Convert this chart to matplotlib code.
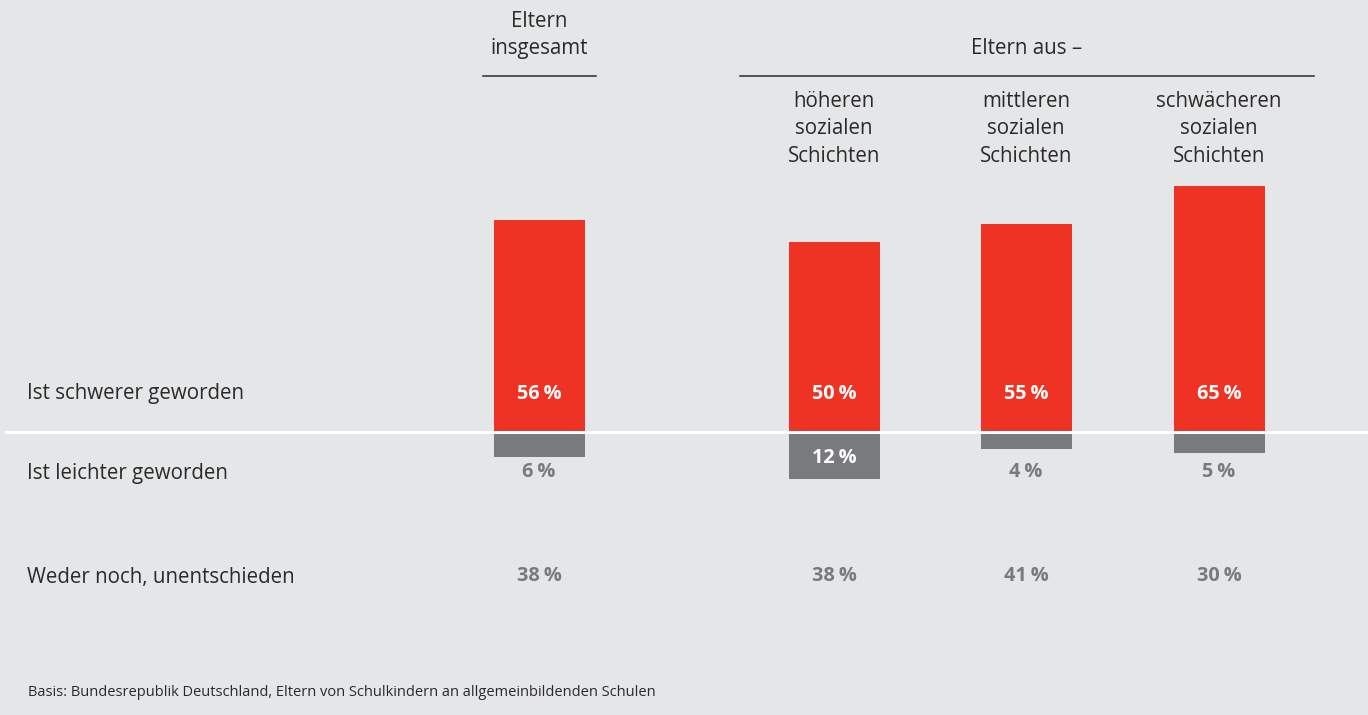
import matplotlib.pyplot as plt
import numpy as np

# Data
groups = ['Eltern insgesamt', 'höheren sozialen Schichten',
          'mittleren sozialen Schichten', 'schwächeren sozialen Schichten']
col_headers = ['höheren\nsozialen\nSchichten', 'mittleren\nsozialen\nSchichten',
               'schwächeren\nsozialen\nSchichten']
harder = [56, 50, 55, 65]
easier = [6, 12, 4, 5]
neither = [38, 38, 41, 30]
row_labels = ['Ist schwerer geworden', 'Ist leichter geworden', 'Weder noch, unentschieden']
footnote = 'Basis: Bundesrepublik Deutschland, Eltern von Schulkindern an allgemeinbildenden Schulen'

RED = '#ee3224'
GRAY = '#797a7e'
BG = '#e5e6e8'
DARK = '#2a2a2a'
W, H = 1368, 715

plt.rcParams['font.family'] = ['Open Sans', 'DejaVu Sans']

fig = plt.figure(figsize=(W / 100, H / 100), dpi=100, facecolor=BG)
ax = fig.add_axes([0, 0, 1, 1])
ax.set_facecolor(BG)
# x in pixel units, y in percent (baseline at pixel row 432, ~3.77 px per %)
px_per_pct = 3.77
base = 432
ax.set_xlim(0, W)
ax.set_ylim(-(H - base) / px_per_pct, base / px_per_pct)
ax.axis('off')


def fy(py):
    return 1 - py / H


xpos = np.array([539, 834, 1026, 1219])
bw = 91

ax.bar(xpos, harder, width=bw, bottom=0.3, color=RED, zorder=2)
ax.bar(xpos, [-v for v in easier], width=bw, bottom=-0.5, color=GRAY, zorder=2)
ax.axhline(0, xmin=6 / W, xmax=1, color='white', lw=2.2, zorder=3)

# value labels
vfs = 14.3
pct = '\u2009%'
for x, h, e, n in zip(xpos, harder, easier, neither):
    fig.text(x / W, fy(394), f'{h}{pct}', ha='center', va='center', color='white',
             fontsize=vfs, fontweight='bold')
    if e >= 10:
        fig.text(x / W, fy(458), f'{e}{pct}', ha='center', va='center', color='white',
                 fontsize=vfs, fontweight='bold')
    else:
        fig.text(x / W, fy(472), f'{e}{pct}', ha='center', va='center', color=GRAY,
                 fontsize=vfs, fontweight='bold')
    fig.text(x / W, fy(576), f'{n}{pct}', ha='center', va='center', color=GRAY,
             fontsize=vfs, fontweight='bold')

# row labels
tfs = 14.8
for lab, py in zip(row_labels, [394, 473, 577]):
    fig.text(27 / W, fy(py), lab, ha='left', va='center', color=DARK, fontsize=tfs)

# headers
fig.text(539 / W, fy(35), 'Eltern\ninsgesamt', ha='center', va='center', color=DARK,
         fontsize=tfs, linespacing=1.42)
fig.add_artist(plt.Line2D([483 / W, 596 / W], [fy(76), fy(76)], color=DARK, lw=1.1))
fig.text(1027 / W, fy(49), 'Eltern aus –', ha='center', va='center', color=DARK, fontsize=tfs)
fig.add_artist(plt.Line2D([740 / W, 1314 / W], [fy(76), fy(76)], color=DARK, lw=1.1))
for x, lab in zip(xpos[1:], col_headers):
    fig.text(x / W, fy(129), lab, ha='center', va='center', color=DARK,
             fontsize=tfs, linespacing=1.42)

fig.text(28 / W, fy(693), footnote, ha='left', va='center', color=DARK, fontsize=10.5)

fig.savefig('out.png', dpi=100, facecolor=BG)
